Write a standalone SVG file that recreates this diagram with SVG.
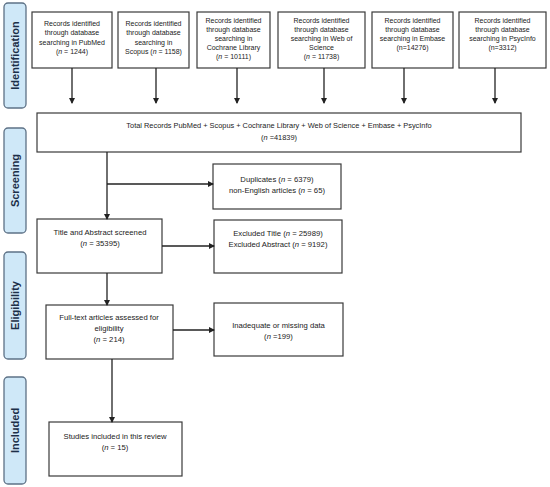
<svg xmlns="http://www.w3.org/2000/svg" width="550" height="487" viewBox="0 0 550 487">
<style>
.bg{fill:#fff}
.box{fill:#fff;stroke:#3a3a3a;stroke-width:1.2}
.lab{fill:#cfe8f8;stroke:#5d7186;stroke-width:1.3}
.lt{font-family:"Liberation Sans",Arial,sans-serif;font-weight:bold;font-size:11px;fill:#1c2f48;text-anchor:middle}
.t{font-family:"Liberation Sans",Arial,sans-serif;font-size:7px;fill:#222;text-anchor:middle}
.m{font-family:"Liberation Sans",Arial,sans-serif;font-size:7.7px;fill:#222;text-anchor:middle}
.tot{font-family:"Liberation Sans",Arial,sans-serif;font-size:7.4px;fill:#222;text-anchor:middle}
.c{stroke:#222;stroke-width:1.3;fill:none}
</style>
<defs>
<marker id="ah" markerWidth="6" markerHeight="6" refX="5" refY="3" orient="auto" markerUnits="userSpaceOnUse">
<path d="M0,0 L6,3 L0,6 Z" fill="#222"/>
</marker>
</defs>
<rect class="bg" x="0" y="0" width="550" height="487"/>

<g id="label-identification"><rect class="lab" x="4" y="3" width="22" height="105" rx="4"/><text class="lt" transform="translate(19,55.5) rotate(-90)">Identification</text></g>
<g id="label-screening"><rect class="lab" x="4" y="128" width="22" height="105" rx="4"/><text class="lt" transform="translate(19,180.5) rotate(-90)">Screening</text></g>
<g id="label-eligibility"><rect class="lab" x="4" y="252" width="22" height="107" rx="4"/><text class="lt" transform="translate(19,305.5) rotate(-90)">Eligibility</text></g>
<g id="label-included"><rect class="lab" x="4" y="377" width="22" height="107" rx="4"/><text class="lt" transform="translate(19,430.5) rotate(-90)">Included</text></g>

<g id="pubmed"><rect class="box" x="32" y="12" width="80" height="56"/>
<text class="t" x="72" y="26">Records identified</text><text class="t" x="72" y="35">through database</text><text class="t" x="72" y="44.5">searching in PubMed</text><text class="t" x="72" y="54">(<tspan font-style="italic">n</tspan> = 1244)</text></g>
<g id="scopus"><rect class="box" x="118" y="12" width="71" height="56"/>
<text class="t" x="153.5" y="26">Records identified</text><text class="t" x="153.5" y="35">through database</text><text class="t" x="153.5" y="44.5">searching in</text><text class="t" x="153.5" y="54">Scopus (<tspan font-style="italic">n</tspan> = 1158)</text></g>
<g id="cochrane"><rect class="box" x="197" y="12" width="73" height="56"/>
<text class="t" x="233.5" y="23">Records identified</text><text class="t" x="233.5" y="32">through database</text><text class="t" x="233.5" y="41">searching in</text><text class="t" x="233.5" y="50">Cochrane Library</text><text class="t" x="233.5" y="59">(<tspan font-style="italic">n</tspan> = 10111)</text></g>
<g id="wos"><rect class="box" x="278" y="12" width="87" height="56"/>
<text class="t" x="321.5" y="23">Records identified</text><text class="t" x="321.5" y="32">through database</text><text class="t" x="321.5" y="41">searching in Web of</text><text class="t" x="321.5" y="50">Science</text><text class="t" x="321.5" y="59">(<tspan font-style="italic">n</tspan> = 11738)</text></g>
<g id="embase"><rect class="box" x="372" y="12" width="81" height="56"/>
<text class="t" x="412.5" y="23">Records identified</text><text class="t" x="412.5" y="32">through database</text><text class="t" x="412.5" y="41">searching in Embase</text><text class="t" x="412.5" y="50">(n=14276)</text></g>
<g id="psycinfo"><rect class="box" x="459" y="12" width="87" height="56"/>
<text class="t" x="502.5" y="23">Records identified</text><text class="t" x="502.5" y="32">through database</text><text class="t" x="502.5" y="41">searching in PsycInfo</text><text class="t" x="502.5" y="50">(n=3312)</text></g>

<g id="total"><rect class="box" x="37" y="113" width="484" height="39"/>
<text class="tot" x="279" y="128">Total Records PubMed + Scopus + Cochrane Library + Web of Science + Embase + PsycInfo</text>
<text class="tot" x="279" y="140">(<tspan font-style="italic">n</tspan> =41839)</text></g>

<g id="duplicates"><rect class="box" x="213" y="164" width="128" height="45"/>
<text class="m" x="277" y="182">Duplicates (<tspan font-style="italic">n</tspan> = 6379)</text>
<text class="m" x="277" y="193">non-English articles (<tspan font-style="italic">n</tspan> = 65)</text></g>

<g id="title-abstract"><rect class="box" x="37" y="219" width="125" height="54"/>
<text class="m" x="100" y="235">Title and Abstract screened</text>
<text class="m" x="100" y="246">(<tspan font-style="italic">n</tspan> = 35395)</text></g>

<g id="excluded"><rect class="box" x="214" y="220" width="128" height="53"/>
<text class="m" x="278" y="236">Excluded Title (<tspan font-style="italic">n</tspan> = 25989)</text>
<text class="m" x="278" y="247">Excluded Abstract (<tspan font-style="italic">n</tspan> = 9192)</text></g>

<g id="fulltext"><rect class="box" x="46" y="305" width="127" height="54"/>
<text class="m" x="109" y="320">Full-text articles assessed for</text>
<text class="m" x="109" y="331">eligibility</text>
<text class="m" x="109" y="342">(<tspan font-style="italic">n</tspan> = 214)</text></g>

<g id="inadequate"><rect class="box" x="214" y="303" width="129" height="53"/>
<text class="m" x="278.5" y="328">Inadequate or missing data</text>
<text class="m" x="278.5" y="339">(<tspan font-style="italic">n</tspan> =199)</text></g>

<g id="included"><rect class="box" x="49" y="422" width="133" height="54"/>
<text class="m" x="115" y="439">Studies included in this review</text>
<text class="m" x="115" y="450">(<tspan font-style="italic">n</tspan> = 15)</text></g>

<g id="connectors">
<line class="c" x1="72" y1="68" x2="72" y2="103" marker-end="url(#ah)"/>
<line class="c" x1="156" y1="68" x2="156" y2="103" marker-end="url(#ah)"/>
<line class="c" x1="237" y1="68" x2="237" y2="103" marker-end="url(#ah)"/>
<line class="c" x1="324" y1="68" x2="324" y2="103" marker-end="url(#ah)"/>
<line class="c" x1="404" y1="68" x2="404" y2="103" marker-end="url(#ah)"/>
<line class="c" x1="495" y1="68" x2="495" y2="103" marker-end="url(#ah)"/>
<line class="c" x1="107" y1="152" x2="107" y2="219" marker-end="url(#ah)"/>
<line class="c" x1="107" y1="184" x2="213" y2="184" marker-end="url(#ah)"/>
<line class="c" x1="162" y1="246" x2="214" y2="246" marker-end="url(#ah)"/>
<line class="c" x1="107" y1="273" x2="107" y2="305" marker-end="url(#ah)"/>
<line class="c" x1="173" y1="330" x2="214" y2="330" marker-end="url(#ah)"/>
<line class="c" x1="112" y1="359" x2="112" y2="422" marker-end="url(#ah)"/>
</g>
</svg>
